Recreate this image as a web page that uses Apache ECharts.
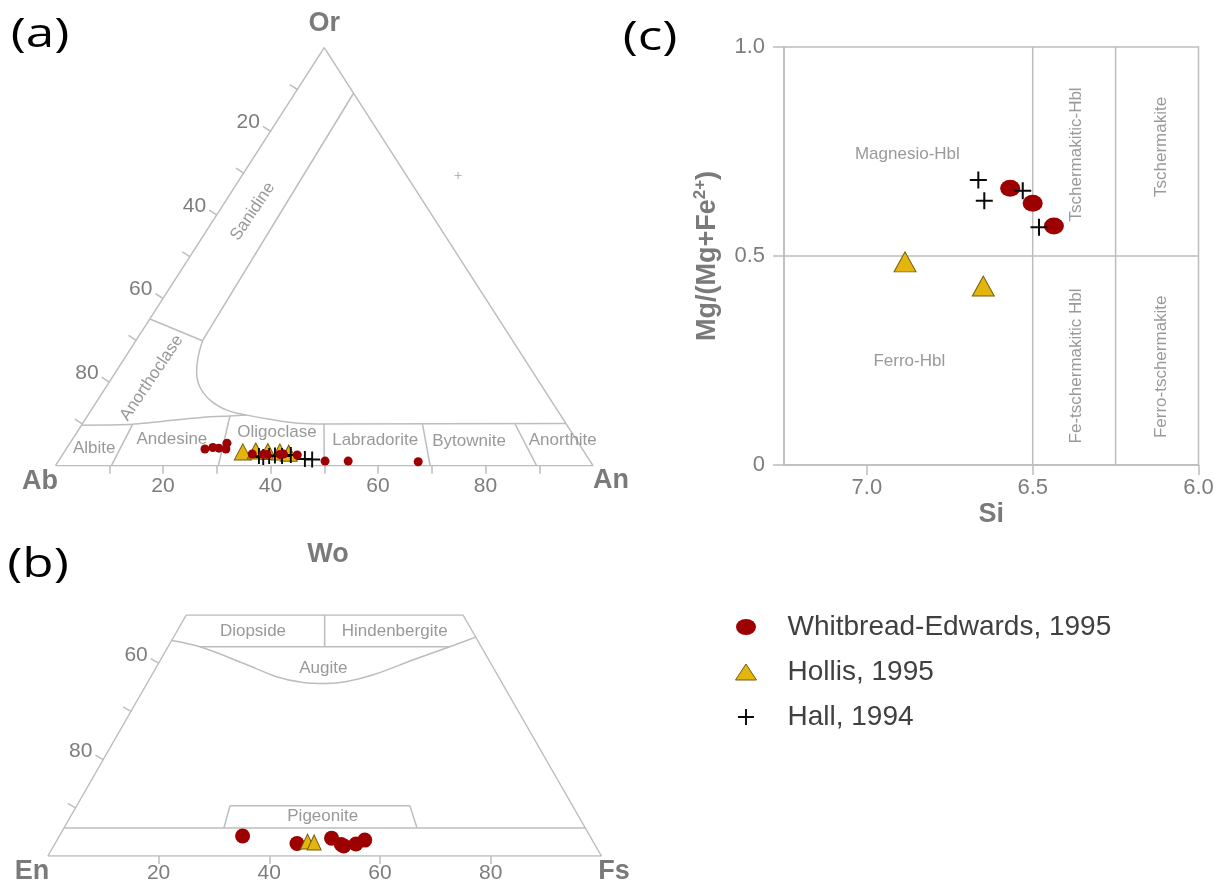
<!DOCTYPE html>
<html>
<head>
<meta charset="utf-8">
<title>Feldspar, pyroxene and amphibole compositions</title>
<script src="https://cdn.jsdelivr.net/npm/echarts@6.0.0/dist/echarts.min.js"></script>
<style>
  html, body { margin: 0; padding: 0; background: #ffffff; }
  #chart { width: 1227px; height: 885px; }
</style>
</head>
<body>
<div id="chart"></div>
<script>
// ---------- (a) Feldspar: [An, Or] in mol %, Ab is the remainder ----------
const feldsparWhitbread = [[25.8, 4.0], [27.1, 4.35], [28.3, 4.2], [29.7, 4.0], [29.2, 5.4],
  [35.2, 2.8], [37.3, 2.7], [38.0, 2.7], [40.4, 2.7], [41.0, 2.8], [43.7, 2.55],
  [49.6, 1.1], [53.9, 1.1], [67.0, 0.95]];
const feldsparHollis = [[33.2, 3.3], [35.5, 3.5], [37.8, 3.4], [40.1, 3.3], [41.9, 3.0]];
const feldsparHall = [[36.7, 2.3], [37.6, 2.1], [38.6, 2.3], [39.6, 2.45], [41.0, 2.3],
  [42.5, 2.55], [45.6, 1.6], [47.0, 1.5]];
const feldsparStray = [[40.2, 69.4]];

// field boundaries of the feldspar triangle, [An, Or]
const feldsparFrame = [[0, 0], [100, 0], [0, 100], [0, 0]];
const sanidineBoundary = [[10.9, 89.1], [12.4, 29.9]];
const anorthoclaseBoundary = [[0, 35.1], [12.4, 29.9]];
const solvusCurve = [[12.4, 29.9], [13.5, 26.1], [15.0, 22.5], [17.4, 18.9], [20.9, 15.7],
  [25.2, 13.3], [29.5, 12.1], [34.4, 11.1], [39.1, 10.3], [43.6, 10.0]];
const plagioclaseTopLeft = [[0, 9.7], [9.4, 9.9], [21.7, 11.6], [26.5, 11.9], [29.5, 12.1]];
const plagioclaseTopRight = [[43.6, 10.0], [89.9, 10.1]];
const plagioclaseDividers = [
  [[10.4, 0], [9.4, 9.9]],
  [[30.3, 0], [26.5, 11.9]],
  [[50.0, 0], [44.9, 10.1]],
  [[69.7, 0], [63.2, 10.1]],
  [[89.5, 0], [80.4, 10.1]]
];
const feldsparBaseTicks = [10, 20, 30, 40, 50, 60, 70, 80, 90];
const feldsparBaseLabels = [20, 40, 60, 80];
const feldsparEdgeTicks = [10, 20, 30, 40, 50, 60, 70, 80, 90];
const feldsparEdgeLabels = [20, 40, 60, 80];

// ---------- (b) Pyroxene: [Fs, Wo] in mol %, En is the remainder ----------
const pyroxWhitbread = [[33.1, 4.15], [43.7, 2.6], [49.4, 3.7], [51.8, 2.4], [52.4, 2.1],
  [54.4, 2.5], [55.6, 3.3]];
const pyroxHollis = [[45.4, 3.0], [46.7, 2.8]];

const pyroxFrame = [[0, 0], [100, 0], [50, 50], [0, 50], [0, 0]];
const augiteCurve = [[0, 44.7], [5.75, 43.4], [15.3, 40.0], [22.7, 37.2], [28.1, 36.0],
  [32.4, 35.8], [35.9, 36.2], [40.0, 37.6], [45.7, 40.7], [50.9, 43.4], [54.6, 45.4]];
const diopsideBase = [[5.75, 43.4], [50.9, 43.4]];
const diopsideDivider = [[25, 50], [28.3, 43.4]];
const pigeoniteBase = [[0, 5.8], [94.2, 5.8]];
const pigeoniteBox = [[28.9, 5.8], [27.7, 10.4], [60.2, 10.4], [63.8, 5.8]];
const pyroxBaseTicks = [20, 40, 60, 80];
const pyroxBaseLabels = [20, 40, 60, 80];
const pyroxEdgeTicks = [90, 80, 70, 60];
const pyroxEdgeLabels = [80, 60];

// ---------- (c) Amphibole: [Si apfu, Mg/(Mg+Fe2+)] ----------
const amphWhitbread = [[6.568, 0.662], [6.500, 0.626], [6.436, 0.572]];
const amphHollis = [[6.885, 0.486], [6.649, 0.428]];
const amphHall = [[6.664, 0.682], [6.646, 0.632], [6.530, 0.656], [6.481, 0.569]];
const siRange = [6.0, 7.25];
const mgRange = [0, 1];
const siTicks = [6.0, 6.5, 7.0];
const siBoundaries = [6.5, 6.25];
const mgBoundary = 0.5;

// ---------- styling ----------
const LINE = '#bdbdbd';
const TICK_TEXT = '#7d7d7d';
const FIELD_TEXT = '#808080';
const TITLE_TEXT = '#7a7a7a';
const RED = '#9c0000';
const YELLOW = '#e4b50c';
const YELLOW_EDGE = '#745c10';
const BLACK = '#0a0a0a';
const SANS = '"Liberation Sans", Arial, sans-serif';
const PLUS = 'path://M0,8.8H20V11.2H0Z M8.8,0H11.2V20H8.8Z';
const ELLIPSE = 'path://M0,8A10,8 0 1 1 20,8A10,8 0 1 1 0,8Z';
const NAME_WE = 'Whitbread-Edwards, 1995';
const NAME_HO = 'Hollis, 1995';
const NAME_HA = 'Hall, 1994';

// ternary composition -> plotting plane (x along the base, y = apex component)
const fx = ([an, or]) => [an + or / 2, or];
const px = ([fs, wo]) => [fs + wo / 2, wo];

function outline(axis, pts, smooth) {
  return {
    type: 'line', xAxisIndex: axis, yAxisIndex: axis, data: pts,
    symbol: 'none', smooth: smooth || false, silent: true, z: 1,
    lineStyle: { color: LINE, width: 1.5 }, emphasis: { disabled: true }
  };
}

function points(axis, name, pts, symbol, size, itemStyle, z) {
  return {
    type: 'scatter', name, xAxisIndex: axis, yAxisIndex: axis, data: pts,
    symbol, symbolSize: size, itemStyle: Object.assign({ opacity: 1 }, itemStyle), z, silent: true
  };
}

function fieldLabels(axis, items, toXY) {
  return {
    type: 'scatter', xAxisIndex: axis, yAxisIndex: axis, silent: true, z: 2,
    symbol: 'circle', symbolSize: 0.01, itemStyle: { color: 'rgba(0,0,0,0)' },
    data: items.map(it => ({ name: it.text, value: toXY(it.at), label: { rotate: it.rotate || 0 } })),
    label: { show: true, position: 'inside', formatter: '{b}', color: FIELD_TEXT, fontSize: 17, fontFamily: SANS }
  };
}

// ticks drawn outward, perpendicular to the left edge of a ternary plot
function edgeTicks(axis, ticks, labelled, toXY, edgeA, edgeB) {
  return {
    type: 'custom', xAxisIndex: axis, yAxisIndex: axis, silent: true, z: 2,
    data: ticks.map(t => toXY(t).concat([t])),
    renderItem(params, api) {
      const p = api.coord([api.value(0), api.value(1)]);
      const a = api.coord(edgeA), b = api.coord(edgeB);
      const dx = b[0] - a[0], dy = b[1] - a[1], len = Math.hypot(dx, dy);
      const nx = dy / len, ny = -dx / len;
      const q = [p[0] + nx * 9, p[1] + ny * 9];
      const kids = [{ type: 'line', shape: { x1: p[0], y1: p[1], x2: q[0], y2: q[1] },
        style: { stroke: LINE, lineWidth: 1.5 } }];
      const v = api.value(2);
      if (labelled.indexOf(v) >= 0) {
        kids.push({ type: 'text', x: q[0] - 3, y: q[1] - 4,
          style: { text: String(v), align: 'right', verticalAlign: 'middle', fill: TICK_TEXT, font: '21px ' + SANS } });
      }
      return { type: 'group', children: kids };
    }
  };
}

const feldsparFields = [
  { text: 'Sanidine', at: [6.3, 60.8], rotate: 56 },
  { text: 'Anorthoclase', at: [7.4, 21.0], rotate: 56 },
  { text: 'Albite', at: [5.1, 4.2] },
  { text: 'Andesine', at: [18.5, 6.3] },
  { text: 'Oligoclase', at: [37.2, 8.0] },
  { text: 'Labradorite', at: [56.4, 6.15] },
  { text: 'Bytownite', at: [74.0, 5.9] },
  { text: 'Anorthite', at: [91.3, 6.15] }
];
const pyroxFields = [
  { text: 'Diopside', at: [13.7, 46.7] },
  { text: 'Hindenbergite', at: [39.3, 46.7] },
  { text: 'Augite', at: [30.3, 38.9] },
  { text: 'Pigeonite', at: [45.5, 8.3] }
];
const amphFields = [
  { text: 'Magnesio-Hbl', at: [6.878, 0.743] },
  { text: 'Ferro-Hbl', at: [6.872, 0.249] },
  { text: 'Tschermakitic-Hbl', at: [6.368, 0.743], rotate: 90 },
  { text: 'Tschermakite', at: [6.111, 0.761], rotate: 90 },
  { text: 'Fe-tschermakitic Hbl', at: [6.368, 0.237], rotate: 90 },
  { text: 'Ferro-tschermakite', at: [6.111, 0.235], rotate: 90 }
];

const redStyle = { color: RED };
const triStyle = { color: YELLOW, borderColor: YELLOW_EDGE, borderWidth: 1 };
const plusStyle = { color: BLACK };
const ident = p => p;

const series = [
  // (a) feldspar
  outline(0, feldsparFrame.map(fx)),
  outline(0, sanidineBoundary.map(fx)),
  outline(0, anorthoclaseBoundary.map(fx)),
  outline(0, solvusCurve.map(fx), 0.35),
  outline(0, plagioclaseTopLeft.map(fx), 0.2),
  outline(0, plagioclaseTopRight.map(fx)),
  ...plagioclaseDividers.map(d => outline(0, d.map(fx))),
  edgeTicks(0, feldsparEdgeTicks, feldsparEdgeLabels, ab => fx([0, 100 - ab]), fx([0, 0]), fx([0, 100])),
  fieldLabels(0, feldsparFields, fx),
  points(0, NAME_HO, feldsparHollis.map(fx), 'triangle', [17, 16], triStyle, 3),
  points(0, NAME_HA, feldsparHall.map(fx), PLUS, 16, plusStyle, 4),
  points(0, NAME_WE, feldsparWhitbread.map(fx), 'circle', 9, redStyle, 5),
  { type: 'scatter', xAxisIndex: 0, yAxisIndex: 0, data: feldsparStray.map(fx), symbol: PLUS,
    symbolSize: 7, itemStyle: { color: '#a0a0a0', opacity: 1 }, silent: true, z: 3 },

  // (b) pyroxene
  outline(1, pyroxFrame.map(px)),
  outline(1, augiteCurve.map(px), 0.35),
  outline(1, diopsideBase.map(px)),
  outline(1, diopsideDivider.map(px)),
  outline(1, pigeoniteBase.map(px)),
  outline(1, pigeoniteBox.map(px)),
  edgeTicks(1, pyroxEdgeTicks, pyroxEdgeLabels, en => px([0, 100 - en]), px([0, 0]), px([0, 50])),
  fieldLabels(1, pyroxFields, px),
  points(1, NAME_WE, pyroxWhitbread.map(px), 'circle', 15, redStyle, 3),
  points(1, NAME_HO, pyroxHollis.map(px), 'triangle', [14, 15], triStyle, 4),

  // (c) amphibole
  ...siBoundaries.map(si => outline(2, [[si, mgRange[0]], [si, mgRange[1]]])),
  outline(2, [[siRange[0], mgBoundary], [siRange[1], mgBoundary]]),
  fieldLabels(2, amphFields, ident),
  points(2, NAME_HO, amphHollis, 'triangle', [22, 20], triStyle, 3),
  points(2, NAME_WE, amphWhitbread, ELLIPSE, [20, 17], redStyle, 4),
  points(2, NAME_HA, amphHall, PLUS, 17, plusStyle, 5)
];

const hiddenAxis = (idx, max) => ({ gridIndex: idx, type: 'value', min: 0, max, show: false });

const option = {
  animation: false,
  backgroundColor: '#ffffff',
  textStyle: { fontFamily: SANS },
  grid: [
    { left: 55.5, top: 47.7, width: 537.5, height: 418, outerBoundsMode: 'none' },
    { left: 47.9, top: 615, width: 553.5, height: 241, outerBoundsMode: 'none' },
    { left: 784, top: 47, width: 414.5, height: 418, outerBoundsMode: 'none',
      show: true, borderColor: LINE, borderWidth: 1.5, backgroundColor: 'transparent' }
  ],
  xAxis: [
    { gridIndex: 0, type: 'value', min: 0, max: 100, axisLine: { show: false }, splitLine: { show: false },
      axisTick: { show: true, customValues: feldsparBaseTicks, length: 8, lineStyle: { color: LINE, width: 1.5 } },
      axisLabel: { show: true, customValues: feldsparBaseLabels, margin: 10, color: TICK_TEXT, fontSize: 21, fontFamily: SANS } },
    { gridIndex: 1, type: 'value', min: 0, max: 100, axisLine: { show: false }, splitLine: { show: false },
      axisTick: { show: true, customValues: pyroxBaseTicks, length: 8, lineStyle: { color: LINE, width: 1.5 } },
      axisLabel: { show: true, customValues: pyroxBaseLabels, margin: 7, color: TICK_TEXT, fontSize: 21, fontFamily: SANS } },
    { gridIndex: 2, type: 'value', inverse: true, min: siRange[0], max: siRange[1], interval: 0.5,
      name: 'Si', nameLocation: 'middle', nameGap: 36,
      nameTextStyle: { fontSize: 27, fontWeight: 'bold', color: TITLE_TEXT, fontFamily: SANS },
      axisLine: { show: true, lineStyle: { color: LINE, width: 1.5 } },
      axisTick: { show: true, customValues: siTicks, length: 10, lineStyle: { color: LINE, width: 1.5 } },
      axisLabel: { customValues: siTicks, margin: 12, color: TICK_TEXT, fontSize: 22, fontFamily: SANS,
        formatter: v => v.toFixed(1) },
      splitLine: { show: false } }
  ],
  yAxis: [
    hiddenAxis(0, 100),
    hiddenAxis(1, 50),
    { gridIndex: 2, type: 'value', min: mgRange[0], max: mgRange[1], interval: 0.5,
      name: '{t|Mg/(Mg+Fe}{s|2+}{t|)}', nameLocation: 'middle', nameGap: 60, nameRotate: 90,
      nameTextStyle: { rich: {
        t: { fontSize: 27, fontWeight: 'bold', color: TITLE_TEXT, fontFamily: SANS, lineHeight: 32, verticalAlign: 'middle' },
        s: { fontSize: 17, fontWeight: 'bold', color: TITLE_TEXT, fontFamily: SANS, lineHeight: 17, verticalAlign: 'top' }
      } },
      axisLine: { show: true, lineStyle: { color: LINE, width: 1.5 } },
      axisTick: { show: true, length: 11, lineStyle: { color: LINE, width: 1.5 } },
      axisLabel: { margin: 19, color: TICK_TEXT, fontSize: 22, fontFamily: SANS,
        formatter: v => (v === 0 ? '0' : v.toFixed(1)) },
      splitLine: { show: false } }
  ],
  legend: {
    orient: 'vertical', left: 730, top: 608, itemWidth: 21, itemHeight: 16, itemGap: 17,
    selectedMode: false,
    textStyle: { fontSize: 28, color: '#404040', fontFamily: SANS, padding: [0, 0, 0, 26] },
    data: [
      { name: NAME_WE, icon: ELLIPSE, itemStyle: { color: RED, borderWidth: 0, opacity: 1 } },
      { name: NAME_HO, icon: 'triangle', itemStyle: { color: YELLOW, borderColor: YELLOW_EDGE, borderWidth: 1, opacity: 1 } },
      { name: NAME_HA, icon: PLUS, itemStyle: { color: BLACK, borderWidth: 0, opacity: 1 } }
    ]
  },
  graphic: [
    { type: 'text', x: 40, y: 36, scaleX: 1.28, style: { text: '(a)', font: '40px "Open Sans"', fill: '#000', align: 'center', verticalAlign: 'middle' } },
    { type: 'text', x: 38, y: 566, scaleX: 1.28, style: { text: '(b)', font: '40px "Open Sans"', fill: '#000', align: 'center', verticalAlign: 'middle' } },
    { type: 'text', x: 650, y: 39, scaleX: 1.28, style: { text: '(c)', font: '40px "Open Sans"', fill: '#000', align: 'center', verticalAlign: 'middle' } },
    { type: 'text', x: 324.3, y: 24, style: { text: 'Or', font: 'bold 27px ' + SANS, fill: TITLE_TEXT, align: 'center', verticalAlign: 'middle' } },
    { type: 'text', x: 40, y: 482, style: { text: 'Ab', font: 'bold 27px ' + SANS, fill: TITLE_TEXT, align: 'center', verticalAlign: 'middle' } },
    { type: 'text', x: 611, y: 481, style: { text: 'An', font: 'bold 27px ' + SANS, fill: TITLE_TEXT, align: 'center', verticalAlign: 'middle' } },
    { type: 'text', x: 328, y: 555, style: { text: 'Wo', font: 'bold 27px ' + SANS, fill: TITLE_TEXT, align: 'center', verticalAlign: 'middle' } },
    { type: 'text', x: 32, y: 872, style: { text: 'En', font: 'bold 27px ' + SANS, fill: TITLE_TEXT, align: 'center', verticalAlign: 'middle' } },
    { type: 'text', x: 614, y: 872, style: { text: 'Fs', font: 'bold 27px ' + SANS, fill: TITLE_TEXT, align: 'center', verticalAlign: 'middle' } }
  ],
  series
};

const chart = echarts.init(document.getElementById('chart'), null, { renderer: 'canvas' });
chart.setOption(option);
</script>
</body>
</html>
